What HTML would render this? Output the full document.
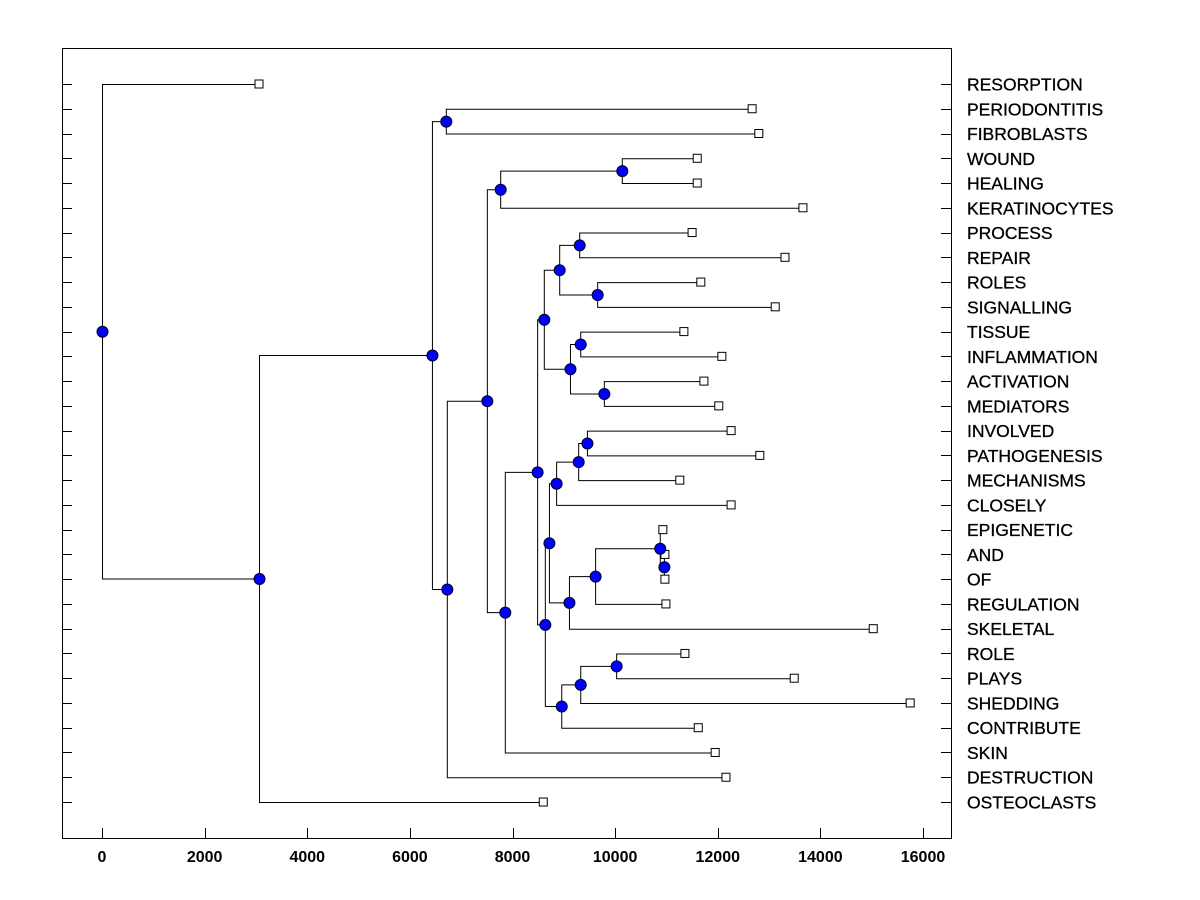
<!DOCTYPE html>
<html><head><meta charset="utf-8"><style>
body{margin:0;background:#fff;}
svg{display:block;font-family:"Liberation Sans",Arial,sans-serif;}
</style></head><body>
<svg id="c" width="1200" height="900"></svg>
<script>
const labels=["RESORPTION","PERIODONTITIS","FIBROBLASTS","WOUND","HEALING","KERATINOCYTES","PROCESS","REPAIR","ROLES","SIGNALLING","TISSUE","INFLAMMATION","ACTIVATION","MEDIATORS","INVOLVED","PATHOGENESIS","MECHANISMS","CLOSELY","EPIGENETIC","AND","OF","REGULATION","SKELETAL","ROLE","PLAYS","SHEDDING","CONTRIBUTE","SKIN","DESTRUCTION","OSTEOCLASTS"];
const leafValues=[3060,12670,12800,11600,11600,13660,11500,13310,11670,13120,11340,12080,11730,12020,12260,12820,11260,12260,10930,10970,10970,10990,15030,11360,13490,15750,11620,11950,12160,8600];
// merges: [childA, childB, height]; children: "L<i>" leaf, "N<i>" earlier merge
const merges=[
["L1","L2",6700],["L3","L4",10130],["N1","L5",7760],["L6","L7",9300],["L8","L9",9650],
["N3","N4",8910],["L10","L11",9320],["L12","L13",9780],["N6","N7",9120],["N5","N8",8610],
["L14","L15",9450],["N10","L16",9280],["N11","L17",8850],["L19","L20",10950],["L18","N13",10870],
["N14","L21",9610],["N15","L22",9100],["N12","N16",8710],["L23","L24",10020],["N18","L25",9320],
["N19","L26",8950],["N17","N20",8630],["N9","N21",8480],["N22","L27",7850],["N2","N23",7500],
["N24","L28",6720],["N0","N25",6430],["N26","L29",3060],["L0","N27",0]];
const xTicks=[0,2000,4000,6000,8000,10000,12000,14000,16000];

const L=62,R=951,T=48,B=838;
const X=v=>102+v*(923-102)/16000;
const Y=i=>84+i*(802-84)/29;
const svg=document.getElementById('c');
const NS="http://www.w3.org/2000/svg";
function mk(t,a){const e=document.createElementNS(NS,t);for(const k in a)e.setAttribute(k,a[k]);svg.appendChild(e);return e;}
const frame=mk('rect',{x:L+.5,y:T+.5,width:R-L,height:B-T,fill:'none',stroke:'#000'});


labels.forEach((s,i)=>{
  const y=Math.round(Y(i))+.5;
  const t1=mk('line',{x1:L,x2:L+10,y1:y,y2:y,stroke:'#000'});
  
  
  const t2=mk('line',{x1:R-10,x2:R,y1:y,y2:y,stroke:'#000'});
  
  
  const tx=mk('text',{x:967,y:Y(i)+6.5,'font-size':'17.5','stroke':'#000','stroke-width':'0.3'});tx.textContent=s;
  
  
});
xTicks.forEach(v=>{
  const x=Math.round(X(v))+.5;
  const t=mk('line',{x1:x,x2:x,y1:B-10,y2:B,stroke:'#000'});
  
  
  const tx=mk('text',{x:X(v),y:862,'font-size':'16','font-weight':'bold','text-anchor':'middle'});tx.textContent=v;
  
  
});
const nodes=[];
function pos(id){const i=+id.slice(1);if(id[0]=='L')return{x:X(leafValues[i]),y:Y(i)};return nodes[i];}
merges.forEach(m=>{const a=pos(m[0]),b=pos(m[1]);nodes.push({x:X(m[2]),y:(a.y+b.y)/2,a,b});});
nodes.forEach(n=>{
  const p=mk('path',{d:`M${n.a.x},${n.a.y+.5}H${n.x+.5}V${n.b.y+.5}H${n.b.x}`,fill:'none',stroke:'#000'});
  
  
});
leafValues.forEach((v,i)=>{
  const r=mk('rect',{x:X(v)-4,y:Y(i)-4,width:8,height:8,fill:'#fff',stroke:'#000'});
  
  
});
nodes.forEach(n=>{
  const c=mk('circle',{cx:n.x+.5,cy:n.y+.5,r:5.5,fill:'#0000ff',stroke:'#000020'});
  
  
});
</script>
</body></html>
